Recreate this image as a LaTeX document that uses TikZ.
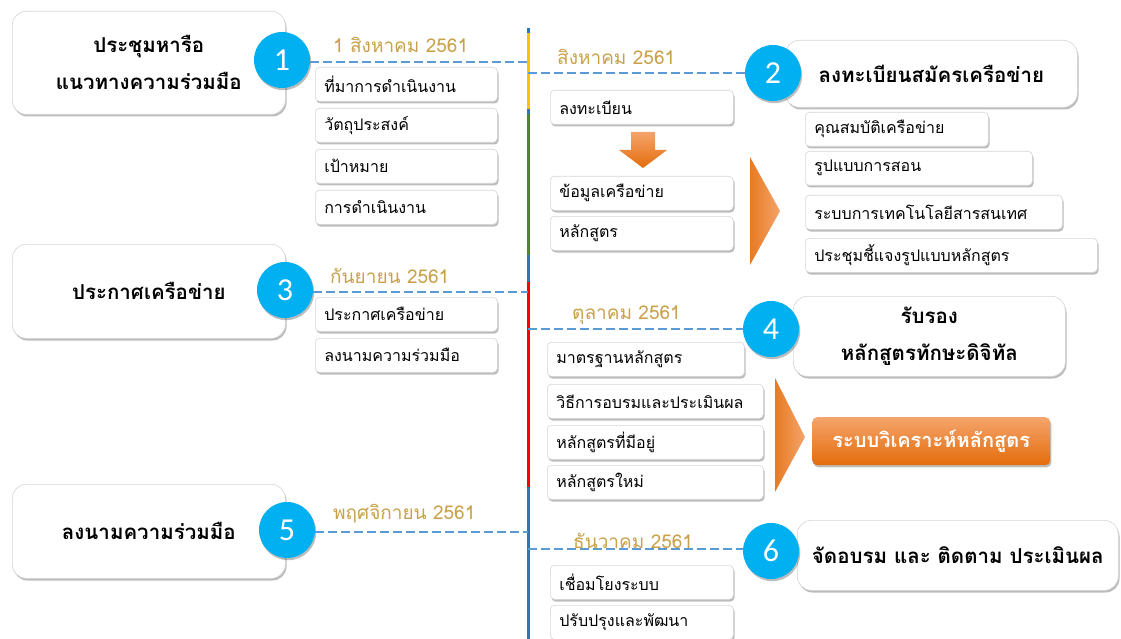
\documentclass[tikz,border=0pt]{standalone}
\usepackage{fontspec}
\usetikzlibrary{shadows}
\newfontfamily\thai[Script=Thai]{Loma}
\newfontfamily\numf{Carlito}
\definecolor{tlblue}{HTML}{2E75B6}
\definecolor{tlyellow}{HTML}{FFC000}
\definecolor{tlgreen}{HTML}{548235}
\definecolor{tlred}{HTML}{FF0000}
\definecolor{dashblue}{HTML}{5B9BD5}
\definecolor{cyanc}{HTML}{00B0F0}
\definecolor{gold}{HTML}{C9A14A}
\definecolor{orangeA}{HTML}{F4A46C}
\definecolor{orangeB}{HTML}{E46C0A}
\definecolor{boxline}{HTML}{D6D6D6}
\tikzset{
 shad/.style={drop shadow={opacity=0.35, shadow xshift=1.2pt, shadow yshift=-2.2pt, fill=black!75}},
 bigbox/.style={draw=boxline, line width=0.6pt, fill=white, rounded corners=14pt, shad, align=center,
   font=\thai\bfseries\fontsize{20.5}{37}\selectfont, anchor=north west, inner sep=0pt},
 item/.style={draw=boxline, line width=0.6pt, fill=white, rounded corners=4pt, shad, anchor=north west,
   minimum height=34pt, inner xsep=9pt, inner ysep=0pt, align=left, font=\thai\fontsize{16}{18}\selectfont},
 numc/.style={circle, fill=cyanc, shad, minimum size=56pt, inner sep=0pt, text=white,
   font=\numf\fontsize{32}{34}\selectfont},
 datel/.style={text=gold, font=\thai\fontsize{19}{22}\selectfont, anchor=west, inner sep=0pt},
 dashc/.style={dashblue, line width=2.7pt, dash pattern=on 9pt off 4pt},
 tline/.style={line width=3pt},
 orshade/.style={top color=orangeA, bottom color=orangeB},
 chev/.style={left color=orangeB!90!white, right color=orangeA},
}
\newcommand\itm[5]{\pgfmathsetmacro\itw{#4-18}\node[item, minimum width=#4pt, text width=\itw pt] (#1) at (#2,#3) {#5};}
\begin{document}
\begin{tikzpicture}[x=1pt,y=-1pt]
\useasboundingbox (0,0) rectangle (1121,639);
% timeline
\coordinate (tl0) at (528,28);
\coordinate (tl1) at (528,33);
\coordinate (tl2) at (528,109);
\coordinate (tl3) at (528,114);
\coordinate (tl4) at (528,255);
\coordinate (tl5) at (528,282);
\coordinate (tl6) at (528,487);
\coordinate (tl7) at (528,639);
\draw[tline,tlblue] (tl0) -- (tl1);
\draw[tline,tlyellow] (tl1) -- (tl2);
\draw[tline,tlblue] (tl2) -- (tl3);
\draw[tline,tlgreen] (tl3) -- (tl4);
\draw[tline,tlblue] (tl4) -- (tl5);
\draw[tline,tlred] (tl5) -- (tl6);
\draw[tline,tlblue] (tl6) -- (tl7);
\coordinate (t1) at (528,62);
\coordinate (t3) at (528,292);
\coordinate (t5) at (528,532);
\coordinate (t2) at (528,73);
\coordinate (t4) at (528,329);
\coordinate (t6) at (528,549);
% big boxes
\node[bigbox, minimum width=273pt, minimum height=103pt] (b1) at (12,11) {ประชุมหารือ\\แนวทางความร่วมมือ};
\node[bigbox, minimum width=273pt, minimum height=94pt] (b3) at (12,244) {ประกาศเครือข่าย};
\node[bigbox, minimum width=273pt, minimum height=94pt] (b5) at (12,484) {ลงนามความร่วมมือ};
\node[bigbox, minimum width=292pt, minimum height=67pt] (b2) at (785,40) {ลงทะเบียนสมัครเครือข่าย};
\node[bigbox, minimum width=272pt, minimum height=80pt] (b4) at (793,296) {รับรอง\\หลักสูตรทักษะดิจิทัล};
\node[bigbox, minimum width=321pt, minimum height=70pt] (b6) at (797,520) {จัดอบรม และ ติดตาม ประเมินผล};
% items
\itm{i1a}{315}{67}{182}{ที่มาการดำเนินงาน}
\itm{i1b}{315}{108}{182}{วัตถุประสงค์}
\itm{i1c}{315}{149}{182}{เป้าหมาย}
\itm{i1d}{315}{190}{182}{การดำเนินงาน}
\itm{i3a}{315}{297}{182}{ประกาศเครือข่าย}
\itm{i3b}{315}{338}{182}{ลงนามความร่วมมือ}
\itm{i2a}{550}{90}{183}{ลงทะเบียน}
\itm{i2b}{550}{176}{183}{ข้อมูลเครือข่าย}
\itm{i2c}{550}{216}{183}{หลักสูตร}
\itm{i2d}{805}{112}{183}{คุณสมบัติเครือข่าย}
\itm{i2e}{805}{151}{227}{รูปแบบการสอน}
\itm{i2f}{805}{195}{257}{ระบบการเทคโนโลยีสารสนเทศ}
\itm{i2g}{805}{238}{292}{ประชุมชี้แจงรูปแบบหลักสูตร}
\itm{i4a}{547}{342}{197}{มาตรฐานหลักสูตร}
\itm{i4b}{547}{384}{216}{วิธีการอบรมและประเมินผล}
\itm{i4c}{547}{425}{216}{หลักสูตรที่มีอยู่}
\itm{i4d}{547}{465}{216}{หลักสูตรใหม่}
\itm{i6a}{550}{565}{183}{เชื่อมโยงระบบ}
\itm{i6b}{550}{605}{183}{ปรับปรุงและพัฒนา}
% orange shapes
\shade[orshade] (631,132) -- (655,132) -- (655,150) -- (667,150) -- (643,168) -- (619,150) -- (631,150) -- cycle;
\shade[chev] (750,157) -- (780,211) -- (750,265) -- cycle;
\shade[chev] (775,378) -- (805,437) -- (775,492) -- cycle;
\node[orshade, rounded corners=5pt, shad, anchor=north west, minimum width=238pt, minimum height=48pt,
  inner sep=0pt, text=white, font=\thai\bfseries\fontsize{20}{22}\selectfont] (ob) at (812,417) {ระบบวิเคราะห์หลักสูตร};
% dates
\node[datel] (d1) at (333,45) {1 สิงหาคม 2561};
\node[datel] (d3) at (330,276) {กันยายน 2561};
\node[datel] (d5) at (333,514) {พฤศจิกายน 2561};
\node[datel] (d2) at (557,57) {สิงหาคม 2561};
\node[datel] (d4) at (572,315) {ตุลาคม 2561};
\node[datel] (d6) at (573,541) {ธันวาคม 2561};
% circles
\node[numc] (c1) at (282,60) {1};
\node[numc] (c3) at (285,290) {3};
\node[numc] (c5) at (287,530) {5};
\node[numc] (c2) at (773,73) {2};
\node[numc] (c4) at (771,329) {4};
\node[numc] (c6) at (771,551) {6};
% connectors
\draw[dashc] (c1.east |- t1) -- (t1);
\draw[dashc] (c3.east |- t3) -- (t3);
\draw[dashc] (c5.east |- t5) -- (t5);
\draw[dashc] (t2) -- (c2.west |- t2);
\draw[dashc] (t4) -- (c4.west |- t4);
\draw[dashc] (t6) -- (c6.west |- t6);
\end{tikzpicture}
\end{document}
